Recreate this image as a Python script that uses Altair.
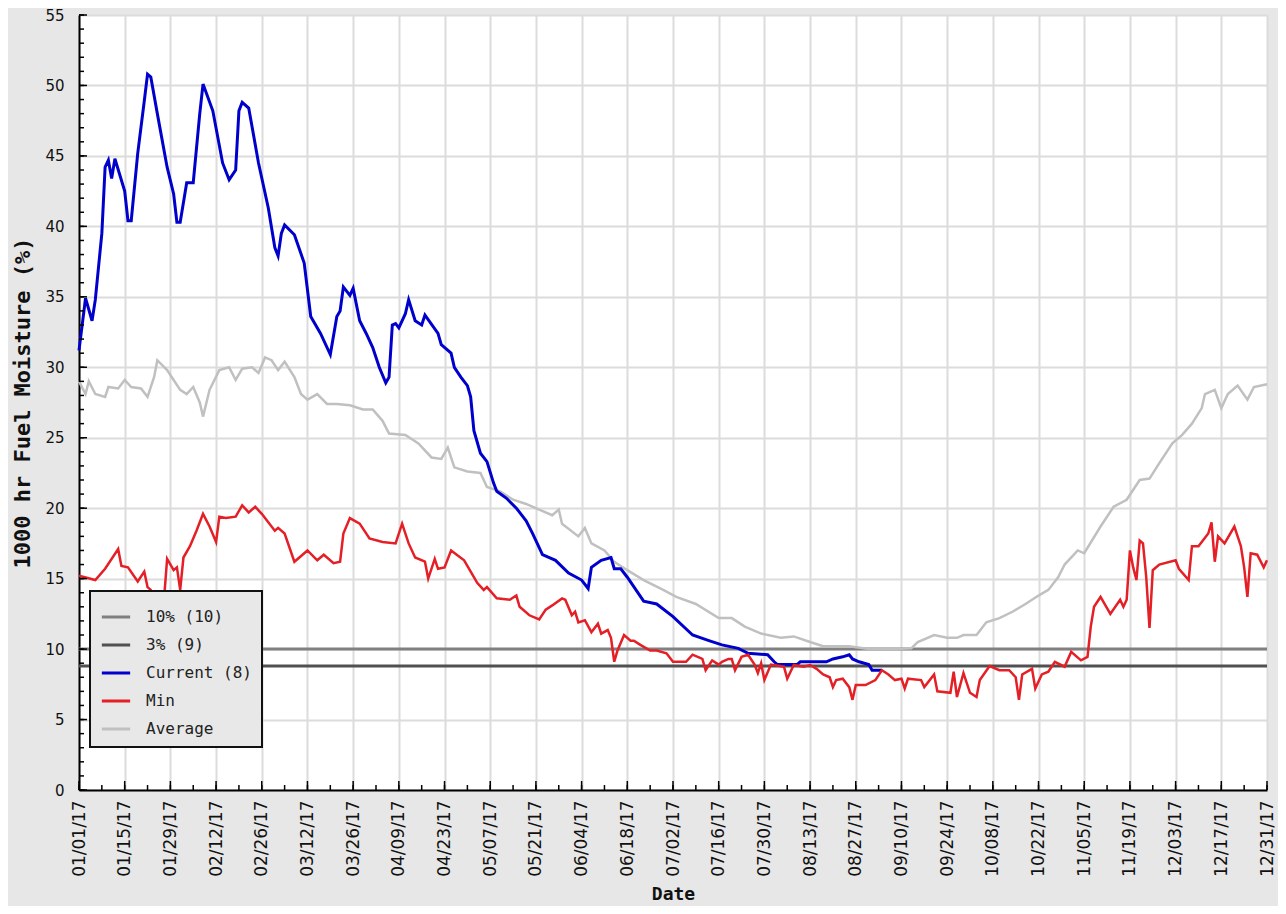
import altair as alt
import pandas as pd

# ---------------- data (day offset from 2017-01-01, value %) ----------------
current_days = [0, 2, 4, 5, 7, 8, 9, 10, 11, 14, 15, 16, 18, 20, 21, 22, 24, 27, 29, 30, 31, 33, 35, 37, 38,
                41, 44, 46, 48, 49, 50, 52, 55, 58, 60, 61, 62, 63, 66, 69, 71, 74, 77, 79, 80, 81, 83, 84,
                86, 88, 90, 92, 94, 95, 96, 97, 98, 100, 101, 103, 105, 106, 110, 111, 114, 115, 117, 119,
                120, 121, 123, 125, 127, 128, 131, 134, 137, 139, 142, 146, 150, 154, 156, 157, 160, 163,
                164, 166, 168, 173, 177, 182, 188, 193, 197, 202, 205, 211, 213, 214, 220, 221, 229, 231,
                234, 236, 237, 239, 242, 243, 246]
current_vals = [31.2, 34.9, 33.3, 34.8, 39.5, 44.2, 44.7, 43.4, 44.8, 42.5, 40.4, 40.4, 45.2, 48.9, 50.8, 50.6,
                48.0, 44.2, 42.3, 40.3, 40.3, 43.1, 43.1, 48.0, 50.1, 48.2, 44.5, 43.3, 44.0, 48.2, 48.8,
                48.4, 44.5, 41.3, 38.5, 37.9, 39.5, 40.1, 39.4, 37.4, 33.6, 32.4, 30.9, 33.6, 34.0, 35.7,
                35.1, 35.6, 33.3, 32.4, 31.4, 30.0, 28.9, 29.3, 33.0, 33.1, 32.8, 33.8, 34.8, 33.3, 33.0,
                33.7, 32.4, 31.6, 31.0, 30.0, 29.3, 28.7, 27.9, 25.5, 23.9, 23.3, 21.8, 21.2, 20.7, 20.0,
                19.1, 18.2, 16.7, 16.3, 15.4, 14.9, 14.3, 15.8, 16.3, 16.5, 15.7, 15.7, 15.1, 13.4, 13.2,
                12.3, 11.0, 10.6, 10.3, 10.05, 9.7, 9.6, 9.1, 8.9, 8.9, 9.1, 9.1, 9.3, 9.45, 9.6, 9.3,
                9.1, 8.9, 8.5, 8.5]

average_days = [0, 2, 3, 5, 8, 9, 12, 14, 16, 19, 21, 23, 24, 27, 29, 31, 33, 35, 37, 38, 40, 43, 46, 48, 50,
                53, 55, 57, 59, 61, 63, 66, 68, 70, 73, 76, 79, 83, 87, 90, 93, 95, 100, 104, 108, 111, 113,
                115, 119, 123, 125, 129, 133, 137, 141, 145, 147, 148, 153, 155, 157, 161, 164, 168, 173,
                179, 183, 189, 196, 200, 204, 209, 215, 219, 224, 228, 236, 242, 250, 255, 257, 262, 266,
                269, 271, 275, 278, 282, 286, 290, 294, 297, 300, 302, 306, 308, 313, 317, 321, 325, 328,
                331, 335, 338, 341, 344, 345, 348, 350, 352, 355, 358, 360, 364]
average_vals = [29.0, 28.1, 29.0, 28.1, 27.9, 28.6, 28.5, 29.1, 28.6, 28.5, 27.9, 29.3, 30.5, 29.8, 29.1, 28.4,
                28.1, 28.6, 27.5, 26.5, 28.4, 29.8, 30.0, 29.1, 29.9, 30.0, 29.6, 30.7, 30.5, 29.8, 30.4,
                29.3, 28.1, 27.7, 28.1, 27.4, 27.4, 27.3, 27.0, 27.0, 26.2, 25.3, 25.2, 24.6, 23.6, 23.5,
                24.3, 22.9, 22.6, 22.5, 21.5, 21.2, 20.6, 20.3, 19.9, 19.5, 19.9, 18.9, 18.0, 18.6, 17.5,
                17.0, 16.2, 15.6, 14.9, 14.2, 13.7, 13.2, 12.2, 12.2, 11.6, 11.1, 10.8, 10.9, 10.5, 10.2,
                10.2, 10.0, 10.0, 10.05, 10.5, 11.0, 10.8, 10.8, 11.0, 11.0, 11.9, 12.2, 12.65, 13.2, 13.8,
                14.2, 15.1, 16.0, 17.0, 16.8, 18.7, 20.1, 20.6, 22.0, 22.1, 23.2, 24.6, 25.2, 26.0, 27.1,
                28.1, 28.4, 27.1, 28.1, 28.7, 27.7, 28.6, 28.8]

min_days = [0, 5, 8, 12, 13, 15, 18, 20, 21, 22, 24, 26, 27, 29, 30, 31, 32, 34, 36, 38, 40, 42, 43, 45, 48,
            50, 52, 54, 56, 60, 61, 63, 66, 70, 73, 75, 78, 80, 81, 83, 86, 89, 93, 97, 99, 101, 103, 106,
            107, 109, 110, 112, 114, 118, 121, 122, 124, 125, 128, 132, 134, 135, 138, 141, 143, 145, 148,
            149, 151, 152, 153, 155, 157, 159, 160, 162, 163, 164, 165, 167, 169, 170, 172, 175, 177, 180,
            182, 186, 188, 191, 192, 194, 196, 197, 199, 200, 201, 203, 205, 207, 208, 209, 210, 212, 216,
            217, 219, 222, 224, 226, 228, 230, 231, 232, 234, 236, 237, 238, 241, 244, 246, 248, 250, 252,
            253, 254, 258, 259, 262, 263, 267, 268, 269, 271, 273, 275, 276, 279, 282, 285, 287, 288, 289,
            292, 293, 295, 297, 299, 302, 304, 307, 309, 310, 311, 313, 316, 319, 320, 321, 322, 323, 324,
            325, 326, 327, 328, 329, 331, 336, 337, 340, 341, 343, 346, 347, 348, 349, 351, 354, 356, 357,
            358, 359, 361, 363, 364]
min_vals = [15.2, 14.9, 15.7, 17.1, 15.9, 15.8, 14.8, 15.5, 14.4, 14.2, 13.2, 13.4, 16.4, 15.6, 15.8, 14.2,
            16.5, 17.3, 18.4, 19.6, 18.7, 17.6, 19.4, 19.3, 19.4, 20.2, 19.7, 20.1, 19.6, 18.4, 18.6, 18.2,
            16.2, 17.0, 16.3, 16.7, 16.1, 16.2, 18.2, 19.3, 18.9, 17.85, 17.6, 17.5, 18.9, 17.5, 16.5, 16.2,
            15.0, 16.4, 15.7, 15.8, 17.0, 16.3, 15.1, 14.7, 14.2, 14.4, 13.6, 13.5, 13.8, 13.0, 12.4, 12.1,
            12.8, 13.1, 13.6, 13.5, 12.4, 12.65, 11.9, 12.05, 11.2, 11.8, 11.1, 11.35, 10.8, 9.1, 9.9, 11.0,
            10.6, 10.6, 10.3, 9.9, 9.9, 9.7, 9.1, 9.1, 9.6, 9.3, 8.5, 9.2, 8.9, 9.1, 9.3, 9.3, 8.5, 9.45,
            9.6, 8.9, 8.3, 9.0, 7.8, 8.9, 8.75, 7.9, 8.87, 8.75, 8.87, 8.6, 8.2, 8.0, 7.3, 7.8, 7.9, 7.3,
            6.4, 7.45, 7.45, 7.8, 8.5, 8.2, 7.8, 7.9, 7.2, 7.9, 7.8, 7.3, 8.2, 7.0, 6.9, 8.4, 6.6, 8.3, 6.9,
            6.6, 7.8, 8.8, 8.5, 8.5, 8.0, 6.4, 8.2, 8.6, 7.2, 8.2, 8.4, 9.1, 8.75, 9.8, 9.2, 9.45, 11.6,
            13.0, 13.7, 12.5, 13.5, 13.0, 13.5, 17.0, 15.8, 14.9, 17.7, 17.5, 15.1, 11.5, 15.6, 16.0, 16.3,
            15.7, 14.9, 17.3, 17.3, 18.2, 19.0, 16.2, 18.0, 17.5, 18.7, 17.3, 15.8, 13.7, 16.8, 16.7, 15.8,
            16.3]

threshold_names = ["10% (10)", "3% (9)"]
threshold_vals = [10.0, 8.8]
threshold_days = [0, 364]

series_names = ["10% (10)", "3% (9)", "Current (8)", "Min", "Average"]
series_colors = ["#808080", "#505050", "#0000cc", "#e41f26", "#c0c0c0"]

y_major = list(range(0, 56, 5))
y_minor = list(range(0, 56))
x_major_days = list(range(0, 365, 14))
x_minor_days = list(range(0, 365, 7))

# ---------------- helpers ----------------
START = pd.Timestamp("2017-01-01")


def day_str(d):
    return (START + pd.Timedelta(days=int(d))).strftime("%Y-%m-%d")


def frame(days, vals, name):
    return pd.DataFrame({"date": [day_str(d) for d in days], "value": vals, "series": name})


def dt(d):
    t = START + pd.Timedelta(days=int(d))
    return alt.DateTime(year=t.year, month=t.month, date=t.day, utc=True)


df_cur = frame(current_days, current_vals, "Current (8)")
df_avg = frame(average_days, average_vals, "Average")
df_min = frame(min_days, min_vals, "Min")
df_thr = pd.concat([frame(threshold_days, [v, v], n) for n, v in zip(threshold_names, threshold_vals)])

xscale = alt.Scale(type="utc", domain=[dt(0), dt(364)], nice=False)
yscale = alt.Scale(domain=[0, 55], nice=False, zero=True)

xaxis = alt.Axis(
    title="Date", values=[dt(d) for d in x_major_days], format="%m/%d/%y",
    labelAngle=270, labelOverlap=False, labelFlush=False, labelBound=False,
    labelFont="DejaVu Sans", labelFontSize=17, labelColor="#111", labelPadding=10,
    ticks=False, tickSize=0, grid=True, gridColor="#dcdcdc", gridWidth=2,
    domainColor="black", domainWidth=2,
    titleFont="DejaVu Sans Mono", titleFontSize=18, titleFontWeight="bold", titleColor="#111",
    titlePadding=9,
)
yaxis = alt.Axis(
    title="1000 hr Fuel Moisture (%)", values=y_major,
    labelFont="DejaVu Sans", labelFontSize=15, labelColor="#111", labelPadding=15,
    ticks=False, tickSize=0, grid=True, gridColor="#dcdcdc", gridWidth=2,
    domainColor="black", domainWidth=2,
    titleFont="DejaVu Sans Mono", titleFontSize=22, titleFontWeight="bold", titleColor="#111",
    titlePadding=10,
)

X = alt.X("date:T", scale=xscale, axis=xaxis)
Y = alt.Y("value:Q", scale=yscale, axis=yaxis)

legend = alt.Legend(
    title=None, orient="none", legendX=11, legendY=576, fillColor="#e8e8e8", strokeColor="#111",
    padding=10, symbolType="stroke", symbolStrokeWidth=3, symbolSize=800,
    labelFont="DejaVu Sans Mono", labelFontSize=16, labelColor="#222", labelOffset=14,
    rowPadding=4, zindex=1,
)
color = alt.Color("series:N", scale=alt.Scale(domain=series_names, range=series_colors), legend=legend)

thr = alt.Chart(df_thr).mark_line(strokeWidth=3).encode(x=X, y=Y, color=color, detail="series:N")
avg = alt.Chart(df_avg).mark_line(strokeWidth=2.5).encode(x=X, y=Y, color=color)
cur = alt.Chart(df_cur).mark_line(strokeWidth=3).encode(x=X, y=Y, color=color)
mn = alt.Chart(df_min).mark_line(strokeWidth=2.5).encode(x=X, y=Y, color=color)

# inward tick marks
ymaj = alt.Chart(pd.DataFrame({"value": y_major})).mark_rule(color="black", strokeWidth=1.5).encode(
    y=Y, x=alt.value(0), x2=alt.value(8))
ymin = alt.Chart(pd.DataFrame({"value": y_minor})).mark_rule(color="black", strokeWidth=1.5).encode(
    y=Y, x=alt.value(0), x2=alt.value(5))
xmaj = alt.Chart(pd.DataFrame({"date": [day_str(d) for d in x_major_days]})).mark_rule(
    color="black", strokeWidth=1.5).encode(x=X, y=alt.value(775), y2=alt.value(766))
xmin = alt.Chart(pd.DataFrame({"date": [day_str(d) for d in x_minor_days]})).mark_rule(
    color="black", strokeWidth=1.5).encode(x=X, y=alt.value(775), y2=alt.value(770))

chart = alt.layer(thr, avg, cur, mn, ymin, ymaj, xmin, xmaj).properties(
    width=1188, height=775,
    autosize=alt.AutoSizeParams(type="none"),
    padding={"left": 71, "top": 7, "right": 11, "bottom": 116},
    background="#e7e7e7",
).configure_view(fill="white", strokeOpacity=0).configure_legend(strokeWidth=2)

chart.save("out.html", embed_options={"renderer": "svg", "actions": False})
